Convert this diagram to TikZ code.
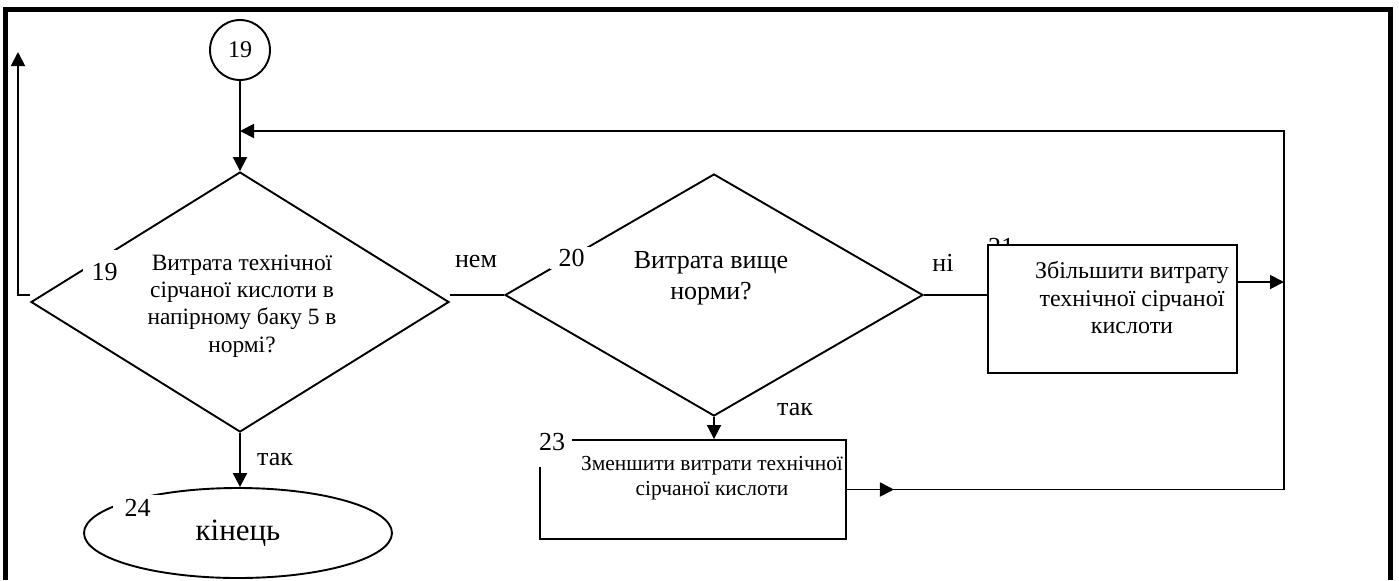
\documentclass[tikz,border=0pt]{standalone}
\usepackage{fontspec}
\setmainfont{Liberation Serif}
\usetikzlibrary{shapes.geometric,arrows.meta,calc}
\begin{document}
\begin{tikzpicture}[x=0.5pt,y=-0.5pt,line width=0.95pt,
  arr/.style={-{Triangle[length=7pt,width=7pt]}},
  decision/.style={draw,diamond,inner sep=0pt,minimum width=209pt,minimum height=#1},
  procbox/.style={draw,fill=white,rectangle,inner sep=0pt},
  numlbl/.style={fill=white,inner sep=0pt,font=\fontsize{13}{15}\selectfont},
  edgelbl/.style={inner sep=0pt,font=\fontsize{13}{15}\selectfont},
  body/.style={align=center,inner sep=0pt}]
\useasboundingbox (0,0) rectangle (1399,580);

% page frame
\draw[line width=2.5pt] (5.5,580) -- (5.5,9) -- (1390.5,9) -- (1390.5,580);

% blocks
\node[draw,circle,minimum size=30pt,inner sep=0pt,font=\fontsize{12}{14}\selectfont] (c19) at (240,50) {19};
\node[decision=130pt] (d19) at (240,302) {};
\node[decision=121pt] (d20) at (714,295) {};
\node[edgelbl] (n21) at (1001,247) {21};
\node[procbox,minimum width=124.5pt,minimum height=64pt] (b21) at (1112.5,309) {};
\node[procbox,minimum width=153pt,minimum height=49.5pt] (b23) at (693,489.5) {};
\node[draw,ellipse,inner sep=0pt,minimum width=154pt,minimum height=45pt,font=\fontsize{15.5}{18}\selectfont] (e24) at (238,533) {кінець};

% block texts
\node[body,font=\fontsize{11.7}{13.7}\selectfont] (t19) at (242,306) {Витрата технічної\\сірчаної кислоти в\\напірному баку 5 в\\нормі?};
\node[body,font=\fontsize{13}{15.5}\selectfont] (t20) at (711,278) {Витрата вище\\норми?};
\node[body,font=\fontsize{12}{13.75}\selectfont] (t21) at (1132,298) {Збільшити витрату\\технічної сірчаної\\кислоти};
\node[body,font=\fontsize{10.7}{12.2}\selectfont] (t23) at (712,478) {Зменшити витрати технічної\\сірчаної кислоти};

% junction points of the return lines
\coordinate (jt) at (240,131);
\coordinate (rt) at (1284,131);
\coordinate (j21) at (1284,282);
\coordinate (lt) at (18,52);

% connectors
\draw[arr] (c19) -- (d19);
\draw[arr] (d19.south) -- (d19.south |- e24.north);
\draw (d20.west) -- (d20.west -| d19.east);
\draw[arr] (d19.west |- d20.west) -| (lt);
\draw (d20.east) -- (d20.east -| b21.west);
\draw[arr] (d20.south) -- (d20.south |- b23.north);
\draw[arr] (b21.east |- j21) -- (j21);
\draw[arr] (b23.east) -- (b23.east -| rt) -- (rt) -- (jt);
\draw[arr] (b23.east) -- ($(b23.east)+(47,0)$);

% branch labels
\node[edgelbl] (lnem) at (476,261) {нем};
\node[edgelbl] (lni) at (943,262.5) {ні};
\node[edgelbl] (ltak20) at (795,409.5) {так};
\node[edgelbl] (ltak19) at (275,459.5) {так};

% block numbers
\node[numlbl,minimum width=22pt,minimum height=22.5pt] (n19) at (104.5,272.5) {19};
\node[numlbl,minimum width=21.5pt,minimum height=11pt] (n20) at (571.5,258) {20};
\node[numlbl,minimum width=20pt,minimum height=24.5pt] (n23) at (552,442.5) {23};
\node[numlbl,minimum width=24.5pt,minimum height=12.5pt] (n24) at (137.5,507.5) {24};
\end{tikzpicture}
\end{document}
